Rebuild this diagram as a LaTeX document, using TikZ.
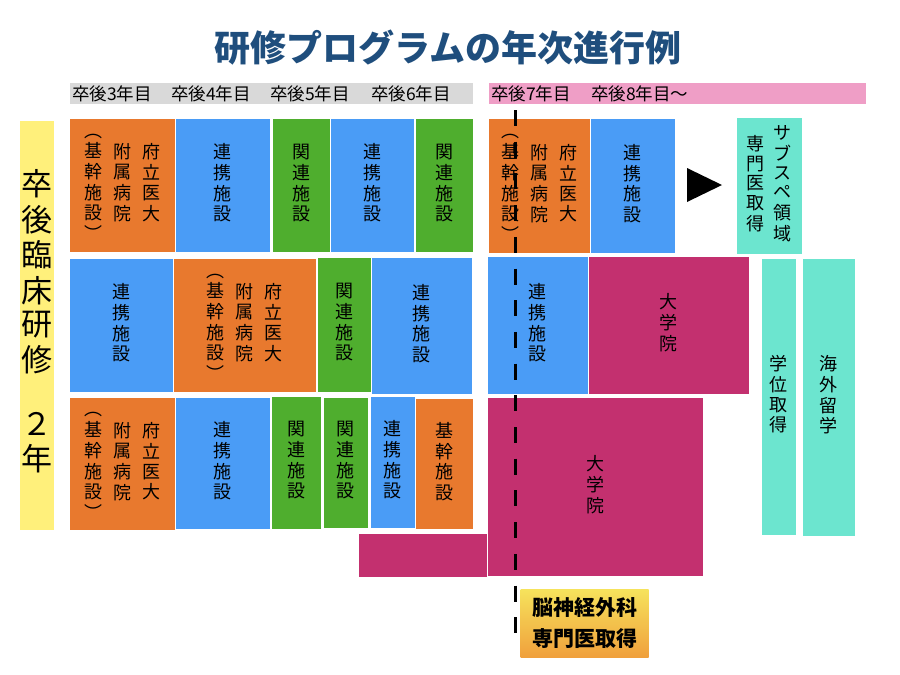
\documentclass[tikz,border=0pt]{standalone}
\usepackage{fontspec}
\setmainfont{Noto Sans CJK JP}
\usepackage{xcolor}
\usepackage{tikz}
\usetikzlibrary{shapes.geometric, arrows}
\definecolor{kikan}{HTML}{E8792E}
\definecolor{renkei}{HTML}{4A9CF6}
\definecolor{kanren}{HTML}{4FAE2E}
\definecolor{daigakuin}{HTML}{C3306F}
\definecolor{subsp}{HTML}{6CE5CF}
\definecolor{kenshu}{HTML}{FFF07B}
\definecolor{titleblue}{HTML}{1F4E7D}
\definecolor{nenji}{HTML}{D9D9D9}
\definecolor{nenjipink}{HTML}{EF9EC6}
\definecolor{senmontop}{HTML}{F6E35C}
\definecolor{senmonbot}{HTML}{F0A03C}
\tikzstyle{blk} = [rectangle, inner sep=0pt, draw=white, line width=0.5pt, font=\fontsize{18}{19}\selectfont]
\tikzstyle{hdr} = [anchor=west, inner sep=0pt, font=\fontsize{17.5}{18}\selectfont]
\newcommand{\tate}[1]{\begin{tabular}[c]{@{}c@{}}#1\end{tabular}}
\newcommand{\fuidai}{\tate{︵\\基\\幹\\施\\設\\︶}\hspace{11pt}\tate{附\\属\\病\\院}\hspace{11pt}\tate{府\\立\\医\\大}}

\begin{document}
\begin{tikzpicture}[x=1pt,y=-1pt]
	\useasboundingbox (0,0) rectangle (900,675);
	
	% Title
	\node[font=\fontsize{36}{40}\selectfont\bfseries, text=titleblue] (title) at (448,48) {研修プログラムの年次進行例};
	
	% Year bars:
	\fill[nenji] (70,83) rectangle (473,104);
	\fill[nenjipink] (489,83) rectangle (866,104);
	\node[hdr] (y3) at (72,94) {卒後3年目};
	\node[hdr] (y4) at (171,94) {卒後4年目};
	\node[hdr] (y5) at (270,94) {卒後5年目};
	\node[hdr] (y6) at (371,94) {卒後6年目};
	\node[hdr] (y7) at (491,94) {卒後7年目};
	\node[hdr] (y8) at (591,94) {卒後8年目〜};
	
	% Initial clinical training
	\node[blk, fill=kenshu, minimum width=35, minimum height=410, font=\fontsize{31}{31.4}\selectfont] (kenshu) at (36.5,325) {\tate{卒\\後\\臨\\床\\研\\修\\　\\２\\年}};
	
	% Row 1
	\node[blk, fill=kikan, minimum width=106, minimum height=134] (ra1) at (122,185) {\fuidai};
	\node[blk, fill=renkei, minimum width=95, minimum height=134] (ra2) at (222.5,185) {\tate{連\\携\\施\\設}};
	\node[blk, fill=kanren, minimum width=58, minimum height=134] (ra3) at (301,185) {\tate{関\\連\\施\\設}};
	\node[blk, fill=renkei, minimum width=84, minimum height=134] (ra4) at (372,185) {\tate{連\\携\\施\\設}};
	\node[blk, fill=kanren, minimum width=58, minimum height=134] (ra5) at (444,185) {\tate{関\\連\\施\\設}};
	\node[blk, fill=kikan, minimum width=102, minimum height=135] (ra6) at (539,185.5) {\fuidai};
	\node[blk, fill=renkei, minimum width=85, minimum height=135] (ra7) at (632.5,185.5) {\tate{連\\携\\施\\設}};
	\fill (687,168) -- (722,185) -- (687,202) -- cycle;
	\node[blk, fill=subsp, minimum width=66, minimum height=137] (ra8) at (769,185.5) {\tate{専\\門\\医\\取\\得}\hspace{9pt}\tate{サ\\ブ\\ス\\ペ\\領\\域}};
	
	% Row 2
	\node[blk, fill=renkei, minimum width=104, minimum height=134] (rb1) at (121,325) {\tate{連\\携\\施\\設}};
	\node[blk, fill=kikan, minimum width=143, minimum height=134] (rb2) at (244.5,325) {\fuidai};
	\node[blk, fill=kanren, minimum width=54, minimum height=135] (rb3) at (344,324.5) {\tate{関\\連\\施\\設}};
	\node[blk, fill=renkei, minimum width=101, minimum height=137] (rb4) at (421.5,325.5) {\tate{連\\携\\施\\設}};
	\node[blk, fill=renkei, minimum width=101, minimum height=138] (rb5) at (537.5,325) {\tate{連\\携\\施\\設}};
	\node[blk, fill=daigakuin, minimum width=161, minimum height=138] (rb6) at (668.5,325) {\tate{大\\学\\院}};
	\node[blk, fill=subsp, minimum width=35, minimum height=277] (gakui) at (778.5,396.5) {\tate{学\\位\\取\\得}};
	\node[blk, fill=subsp, minimum width=53, minimum height=278] (ryugaku) at (828.5,397) {\tate{海\\外\\留\\学}};
	
	% Row 3
	\node[blk, fill=kikan, minimum width=106, minimum height=133] (rc1) at (122,463.5) {\fuidai};
	\node[blk, fill=renkei, minimum width=95, minimum height=132] (rc2) at (222.5,463) {\tate{連\\携\\施\\設}};
	\node[blk, fill=kanren, minimum width=50, minimum height=133] (rc3) at (296,462.5) {\tate{関\\連\\施\\設}};
	\node[blk, fill=kanren, minimum width=45, minimum height=131] (rc4) at (345.5,462.5) {\tate{関\\連\\施\\設}};
	\node[blk, fill=renkei, minimum width=45, minimum height=132] (rc5) at (392.5,462) {\tate{連\\携\\施\\設}};
	\node[blk, fill=kikan, minimum width=58, minimum height=131] (rc6) at (444,463.5) {\tate{基\\幹\\施\\設}};
	\fill[daigakuin] (359,534) rectangle (488,577);
	\node[blk, fill=daigakuin, minimum width=216, minimum height=179] (rc7) at (595,486.5) {\tate{大\\学\\院}};
	
	% Board certification
	\node[blk, draw=none, top color=senmontop, bottom color=senmonbot, minimum width=128, minimum height=68, align=center, font=\fontsize{21}{31}\selectfont\bfseries] (senmon) at (584.5,623) {脳神経外科\\専門医取得};
	
	% Divider
	\coordinate (divtop) at (515,110);
	\coordinate (divbot) at (515,633);
	\draw[line width=3pt, dash pattern=on 16pt off 15.7pt] (divtop) -- (divbot);
	
\end{tikzpicture}
\end{document}
